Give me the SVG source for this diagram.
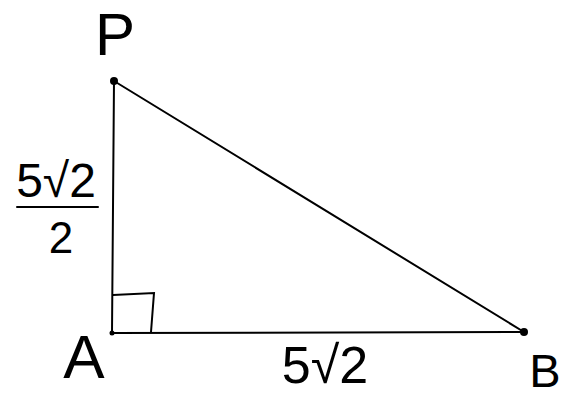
<svg xmlns="http://www.w3.org/2000/svg" width="572" height="397" viewBox="0 0 572 397">
<style>
.edge{stroke:#000;stroke-width:2;fill:none;stroke-linecap:round}
.lbl{font-family:"Liberation Sans","DejaVu Sans",sans-serif;fill:#000;text-anchor:middle}
.pt{fill:#000}
</style>
<rect width="572" height="397" fill="#fff"/>
<g id="connectors">
<line class="edge" x1="114" y1="81" x2="112" y2="333"/>
<line class="edge" x1="112" y1="333" x2="524" y2="332"/>
<line class="edge" x1="114" y1="81" x2="524" y2="332"/>
<path class="edge" d="M113 295 L154 293 L151 332"/>
</g>
<g id="node-P">
<circle class="pt" cx="114" cy="81" r="4"/>
<text class="lbl" x="115" y="55" font-size="60">P</text>
</g>
<g id="node-A">
<circle class="pt" cx="112" cy="333" r="2.5"/>
<text class="lbl" x="84" y="378" font-size="62">A</text>
</g>
<g id="node-B">
<circle class="pt" cx="524" cy="332" r="4"/>
<text class="lbl" x="545" y="387" font-size="47">B</text>
</g>
<g id="label-AP">
<text class="lbl" x="56" y="197" font-size="48">5√2</text>
<line class="edge" x1="17" y1="207" x2="98" y2="207"/>
<text class="lbl" x="61" y="253" font-size="44">2</text>
</g>
<g id="label-AB">
<text class="lbl" x="325" y="383" font-size="52">5√2</text>
</g>
</svg>
